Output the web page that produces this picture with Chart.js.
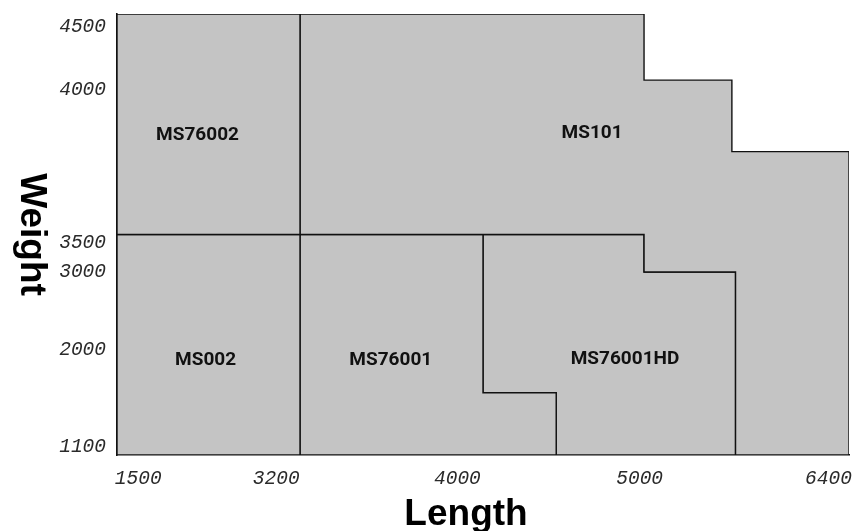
<!DOCTYPE html>
<html lang="en">
<head>
    <meta charset="UTF-8">
    <title>Length / Weight ranges</title>
    <script src="https://cdn.jsdelivr.net/npm/chart.js"></script>
    <style>
        body { margin: 0; background: #fff; }
        #wrap { width: 854px; height: 531px; }
    </style>
</head>
<body>
  <div id="wrap">
    <canvas id="ranges"></canvas>
  </div>

  <script>
// region outlines, in schematic axis units (0..100 on both axes)
const regionNames = ['MS76002', 'MS101', 'MS002', 'MS76001', 'MS76001HD'];

const ms76002X = [0, 0, 25, 25, 0];
const ms76002Y = [50, 100, 100, 50, 50];

const ms101X = [25, 25, 72, 72, 84, 84, 100, 100, 84.5, 84.5, 72, 72, 25];
const ms101Y = [50, 100, 100, 85, 85, 68.8, 68.8, 0, 0, 41.5, 41.5, 50, 50];

const ms002X = [0, 0, 25, 25, 0];
const ms002Y = [0, 50, 50, 0, 0];

const ms76001X = [25, 25, 50, 50, 60, 60, 25];
const ms76001Y = [0, 50, 50, 14.1, 14.1, 0, 0];

const ms76001hdX = [50, 72, 72, 84.5, 84.5, 60, 60, 50, 50];
const ms76001hdY = [50, 50, 41.5, 41.5, 0, 0, 14.1, 14.1, 50];

// where each region name sits
const labelX = [11, 64.9, 12.1, 37.4, 69.4];
const labelY = [72.5, 72.9, 21.5, 21.5, 21.7];

// the axes are not to scale: each tick label has its own place
const xTickLabels = ['1500', '3200', '4000', '5000', '6400'];
const xTickAt = [2.9, 21.75, 46.5, 71.4, 97.2];
const yTickLabels = ['1100', '2000', '3000', '3500', '4000', '4500'];
const yTickAt = [1.8, 23.9, 41.5, 48.1, 82.9, 97.1];

const outlines = [
    [ms76002X, ms76002Y],
    [ms101X, ms101Y],
    [ms002X, ms002Y],
    [ms76001X, ms76001Y],
    [ms76001hdX, ms76001hdY]
];

const datasets = outlines.map(([xs, ys], i) => ({
    label: regionNames[i],
    data: xs.map((x, k) => ({ x: x, y: ys[k] })),
    fill: 'shape',
    backgroundColor: 'rgb(196, 196, 196)',
    borderColor: '#111',
    borderWidth: 1.4,
    pointRadius: 0,
    tension: 0
}));

const tickFont = { family: 'Liberation Mono', size: 19.5, style: 'italic' };

// keep the plot box where it is, tick labels may hang over the edges
function noEdgePadding(scale) {
    scale.paddingTop = 0;
    scale.paddingBottom = 0;
    scale.paddingLeft = 0;
    scale.paddingRight = 0;
}

const regionText = {
    id: 'regionText',
    afterDatasetsDraw(chart) {
        const { ctx, scales, chartArea } = chart;
        ctx.save();
        ctx.fillStyle = '#111';
        ctx.font = 'bold 19px Roboto';
        ctx.textAlign = 'center';
        ctx.textBaseline = 'middle';
        regionNames.forEach((name, i) => {
            ctx.fillText(name, scales.x.getPixelForValue(labelX[i]), scales.y.getPixelForValue(labelY[i]));
        });

        // axis titles
        ctx.fillStyle = '#000';
        ctx.font = 'bold 37px "Liberation Sans"';
        ctx.textBaseline = 'alphabetic';
        ctx.fillText('Length', chartArea.left + 349, 525);

        ctx.translate(21, (chartArea.top + chartArea.bottom) / 2);
        ctx.rotate(Math.PI / 2);
        ctx.fillText('Weight', 0, 0);
        ctx.restore();
    }
};

new Chart(document.getElementById('ranges'), {
    type: 'line',
    data: { datasets: datasets },
    options: {
        responsive: true,
        maintainAspectRatio: false,
        animation: false,
        layout: { padding: { top: 14, right: 5, left: 0, bottom: 0 } },
        plugins: {
            legend: { display: false },
            tooltip: { enabled: false }
        },
        scales: {
            x: {
                type: 'linear',
                min: 0,
                max: 100,
                grid: { display: false, drawTicks: false },
                border: { display: true, color: '#111', width: 1.6 },
                afterBuildTicks: (scale) => { scale.ticks = xTickAt.map(v => ({ value: v })); },
                afterFit: (scale) => { scale.height = 76; noEdgePadding(scale); },
                ticks: {
                    autoSkip: false,
                    maxRotation: 0,
                    padding: 12,
                    color: '#2a2a2a',
                    font: tickFont,
                    callback: (value, index) => xTickLabels[index]
                }
            },
            y: {
                type: 'linear',
                min: 0,
                max: 100,
                grid: { display: false, drawTicks: false },
                border: { display: true, color: '#111', width: 1.6 },
                afterBuildTicks: (scale) => { scale.ticks = yTickAt.map(v => ({ value: v })); },
                afterFit: (scale) => { scale.width = 117; noEdgePadding(scale); },
                ticks: {
                    autoSkip: false,
                    padding: 11,
                    color: '#2a2a2a',
                    font: tickFont,
                    callback: (value, index) => yTickLabels[index]
                }
            }
        }
    },
    plugins: [regionText]
});
  </script>
</body>
</html>
